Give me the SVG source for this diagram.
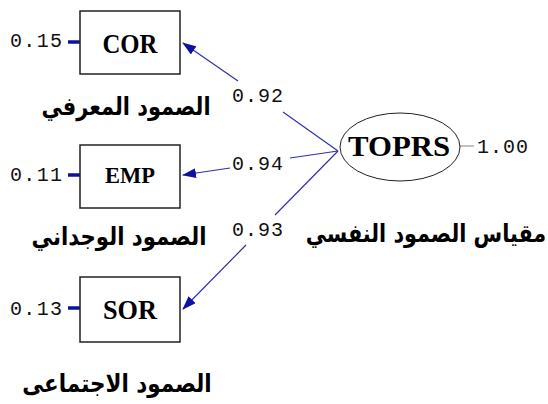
<svg xmlns="http://www.w3.org/2000/svg" width="548" height="404" viewBox="0 0 548 404">
<defs>
<style>
.box{fill:#fff;stroke:#222;stroke-width:1.5}
.ell{fill:#fff;stroke:#222;stroke-width:1}
.lbl{font-family:"Liberation Serif",serif;font-weight:bold;fill:#000;text-anchor:middle}
.num{font-family:"Liberation Mono",monospace;font-size:20px;fill:#111}
.ar{font-family:"DejaVu Sans",sans-serif;font-weight:bold;font-size:25px;fill:#000;text-anchor:middle}
.con{stroke:#3030b0;stroke-width:1.2;fill:none}
.err{stroke:#1010a0;stroke-width:3.5;fill:none}
</style>
<marker id="ah" markerWidth="14" markerHeight="10" refX="13" refY="5" orient="auto" markerUnits="userSpaceOnUse">
<path d="M0,0 L14,5 L0,10 Z" fill="#1010a0"/>
</marker>
</defs>
<rect width="548" height="404" fill="#fff"/>
<g id="connectors">
<line class="con" x1="338" y1="151" x2="283" y2="112"/>
<line class="con" x1="238" y1="81" x2="183" y2="43" marker-end="url(#ah)"/>
<line class="con" x1="338" y1="151" x2="290" y2="158"/>
<line class="con" x1="230" y1="168" x2="183" y2="175" marker-end="url(#ah)"/>
<line class="con" x1="338" y1="151" x2="275" y2="215"/>
<line class="con" x1="246" y1="245" x2="183" y2="309" marker-end="url(#ah)"/>
<line class="err" x1="68" y1="42" x2="80" y2="42"/>
<line class="err" x1="68" y1="175" x2="80" y2="175"/>
<line class="err" x1="68" y1="308" x2="80" y2="308"/>
<line stroke="#999" stroke-width="1.2" x1="460" y1="146" x2="474" y2="146"/>
<text class="num" x="232" y="102" textLength="51">0.92</text>
<text class="num" x="232" y="170" textLength="51">0.94</text>
<text class="num" x="232" y="236" textLength="51">0.93</text>
</g>
<g id="COR">
<rect class="box" x="80" y="11" width="100" height="63"/>
<text class="lbl" x="130" y="53" font-size="28" textLength="55" lengthAdjust="spacingAndGlyphs">COR</text>
<text class="num" x="10" y="47" textLength="52">0.15</text>
<text class="ar" transform="translate(126,115) scale(0.835,1)">الصمود المعرفي</text>
</g>
<g id="EMP">
<rect class="box" x="80" y="145" width="100" height="63"/>
<text class="lbl" x="130" y="183" font-size="23" textLength="50" lengthAdjust="spacingAndGlyphs">EMP</text>
<text class="num" x="10" y="181" textLength="52">0.11</text>
<text class="ar" transform="translate(119,245) scale(0.85,1)">الصمود الوجداني</text>
</g>
<g id="SOR">
<rect class="box" x="80" y="277" width="100" height="65"/>
<text class="lbl" x="130" y="319" font-size="28" textLength="54" lengthAdjust="spacingAndGlyphs">SOR</text>
<text class="num" x="10" y="315" textLength="52">0.13</text>
<text class="ar" transform="translate(117,392) scale(0.86,1)">الصمود الاجتماعى</text>
</g>
<g id="TOPRS">
<ellipse class="ell" cx="400" cy="147" rx="60" ry="34"/>
<text class="lbl" x="399" y="156" font-size="30" textLength="102" lengthAdjust="spacingAndGlyphs">TOPRS</text>
<text class="num" x="477" y="153" textLength="51">1.00</text>
<text class="ar" transform="translate(426,242) scale(0.83,1)">مقياس الصمود النفسي</text>
</g>
</svg>
